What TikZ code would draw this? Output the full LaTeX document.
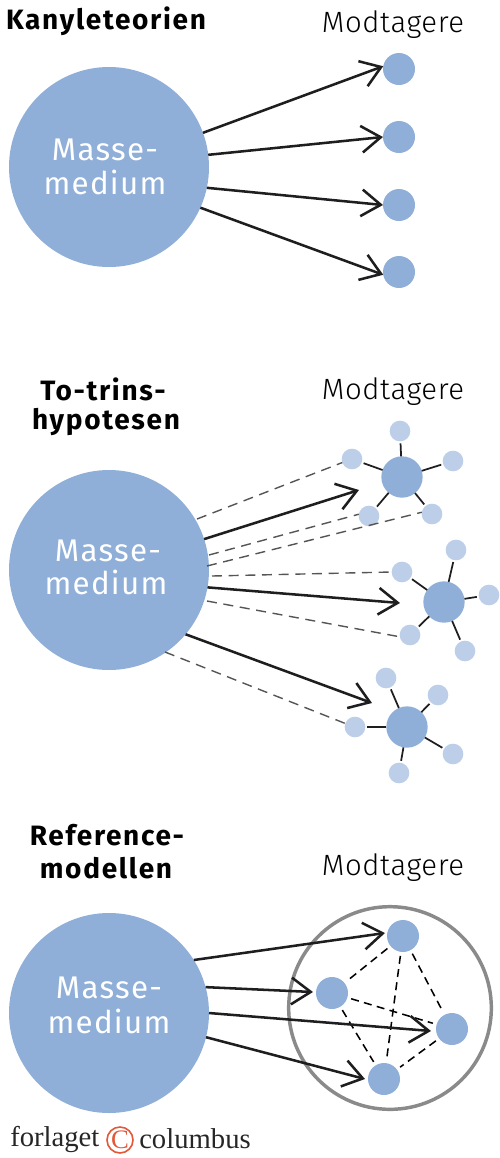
\documentclass[tikz,border=0pt]{standalone}
\usepackage{fontspec}
\setmainfont{Fira Sans}
\newfontfamily\headfont[LetterSpace=6]{Fira Sans}
\newfontfamily\massfont[LetterSpace=4]{Fira Sans}
\newfontfamily\recfont[LetterSpace=2]{Fira Sans Light}
\newfontfamily\logofont{Liberation Serif}
\usetikzlibrary{arrows.meta}
\definecolor{mblue}{HTML}{8FAFD8}
\definecolor{lblue}{HTML}{BCCEE8}
\definecolor{ringgray}{HTML}{8A8A8A}
\definecolor{dashgray}{HTML}{555555}
\definecolor{inkblack}{HTML}{1E1E20}
\definecolor{logored}{HTML}{E4583A}
\tikzset{
  x=0.75pt,y=-0.75pt,
  bigc/.style={circle,fill=mblue,minimum size=150pt,inner sep=0pt,outer sep=0pt},
  hubc/.style={circle,fill=mblue,minimum size=31pt,inner sep=0pt,outer sep=0pt},
  recv/.style={circle,fill=mblue,minimum size=24pt,inner sep=0pt,outer sep=0pt},
  sat/.style={circle,fill=lblue,minimum size=15.5pt,inner sep=0pt,outer sep=0pt},
  arr/.style={draw=inkblack,line width=1.9pt,-{Straight Barb[length=14.5pt,width=20pt,line width=1.9pt]}},
  spoke/.style={draw=inkblack,line width=1.3pt},
  gdash/.style={draw=dashgray,line width=1.05pt,dash pattern=on 7.5pt off 5pt},
  kdash/.style={draw=black,line width=1.15pt,dash pattern=on 6pt off 4pt,shorten >=3pt,shorten <=3pt},
  head/.style={font=\fontsize{21}{21}\headfont\bfseries,text=black,inner sep=0pt},
  rec/.style={font=\fontsize{22}{22}\recfont,text=black,inner sep=0pt},
  mass/.style={font=\fontsize{23.5}{23.5}\massfont,text=white,inner sep=0pt},
  logo/.style={font=\fontsize{21.5}{21.5}\logofont,text=black!85,inner sep=0pt},
}
\begin{document}
\begin{tikzpicture}
\useasboundingbox (0,0) rectangle (500,1158);
% --- Section 1
\node[head] (t1) at (106,21) {Kanyleteorien};
\node[rec] (m1) at (393,25) {Modtagere};
\node[bigc] (A) at (109,167) {};
\node[mass] (a1) at (105,150) {Masse-};
\node[mass] (a2) at (105,182) {medium};
\node[recv] (r1) at (399,69) {};
\node[recv] (r2) at (399,137) {};
\node[recv] (r3) at (399,205) {};
\node[recv] (r4) at (399,272) {};
\draw[arr] (A.20) -- (r1.170);
\draw[arr] (A.7) -- (r2.180);
\draw[arr] (A.-12) -- (r3.180);
\draw[arr] (A.-24) -- (r4.190);
% --- Section 2
\node[head] (t2a) at (103,389) {To-trins-};
\node[head] (t2b) at (106,422) {hypotesen};
\node[rec] (m2) at (393,392) {Modtagere};
\node[bigc] (B) at (109,570) {};
\node[mass] (b1) at (108,551) {Masse-};
\node[mass] (b2) at (106,582) {medium};
% hub 1
\node[hubc] (h1) at (402,477) {};
\node[sat] (s11) at (400,431) {};
\node[sat] (s12) at (352,459) {};
\node[sat] (s13) at (453,461) {};
\node[sat] (s14) at (369,516) {};
\node[sat] (s15) at (432,514) {};
% hub 2
\node[hubc] (h2) at (444,602) {};
\node[sat] (s21) at (402,572) {};
\node[sat] (s22) at (456,550) {};
\node[sat] (s23) at (489,595) {};
\node[sat] (s24) at (410,635) {};
\node[sat] (s25) at (465,651) {};
% hub 3
\node[hubc] (h3) at (407,727) {};
\node[sat] (s31) at (386,678) {};
\node[sat] (s32) at (438,695) {};
\node[sat] (s33) at (453,754) {};
\node[sat] (s34) at (399,773) {};
\node[sat] (s35) at (355,727) {};
\foreach \h/\s in {h1/s11,h1/s12,h1/s13,h1/s14,h1/s15,h2/s21,h2/s22,h2/s23,h2/s24,h2/s25,h3/s31,h3/s32,h3/s33,h3/s34,h3/s35}
  \draw[spoke,shorten >=1.5pt] (\h) -- (\s);
\coordinate (g1) at (197,519);
\coordinate (g2) at (209,555);
\coordinate (g3) at (207,566);
\coordinate (g4) at (212,576);
\coordinate (g5) at (207,601);
\coordinate (g6) at (165,652);
\draw[gdash] (g1) -- (s12.200);
\draw[gdash] (g2) -- (s14.170);
\draw[gdash] (g3) -- (s15.170);
\draw[gdash] (g4) -- (s21.180);
\draw[gdash] (g5) -- (s24.190);
\draw[gdash] (g6) -- (s35.160);
\coordinate (e1) at (359,490);
\coordinate (e2) at (400,603);
\coordinate (e3) at (372,703);
\draw[arr] (B.18) -- (e1);
\draw[arr] (B.-10) -- (e2);
\draw[arr] (B.-40) -- (e3);
% --- Section 3
\node[head] (t3a) at (107,835) {Reference-};
\node[head] (t3b) at (106,868) {modellen};
\node[rec] (m3) at (393,868) {Modtagere};
\node[bigc] (C) at (109,1013) {};
\node[mass] (c1) at (109,988) {Masse-};
\node[mass] (c2) at (109,1021) {medium};
\node[circle,draw=ringgray,line width=2.6pt,minimum size=152pt,inner sep=0pt] (ring) at (390,1008) {};
\node[recv] (p1) at (403,936) {};
\node[recv] (p2) at (332,993) {};
\node[recv] (p3) at (452,1029) {};
\node[recv] (p4) at (384,1079) {};
\draw[kdash] (p1) -- (p2);
\draw[kdash] (p1) -- (p3);
\draw[kdash] (p1) -- (p4);
\draw[kdash] (p2) -- (p3);
\draw[kdash] (p2) -- (p4);
\draw[kdash] (p3) -- (p4);
\coordinate (f1) at (385,933);
\coordinate (f2) at (313,992);
\coordinate (f3) at (431,1031);
\coordinate (f4) at (365,1079);
\draw[arr] (C.32) -- (f1);
\draw[arr] (C.15) -- (f2);
\draw[arr] (C.0) -- (f3);
\draw[arr] (C.-14) -- (f4);
% --- Logo
\node[logo,anchor=west] (l1) at (10,1139) {forlaget};
\node[circle,draw=logored,line width=1.2pt,minimum size=19.5pt,inner sep=0pt,text=logored,font=\fontsize{20}{20}\logofont] (l2) at (120,1140) {C};
\node[logo,anchor=west] (l3) at (139,1139) {columbus};
\end{tikzpicture}
\end{document}
